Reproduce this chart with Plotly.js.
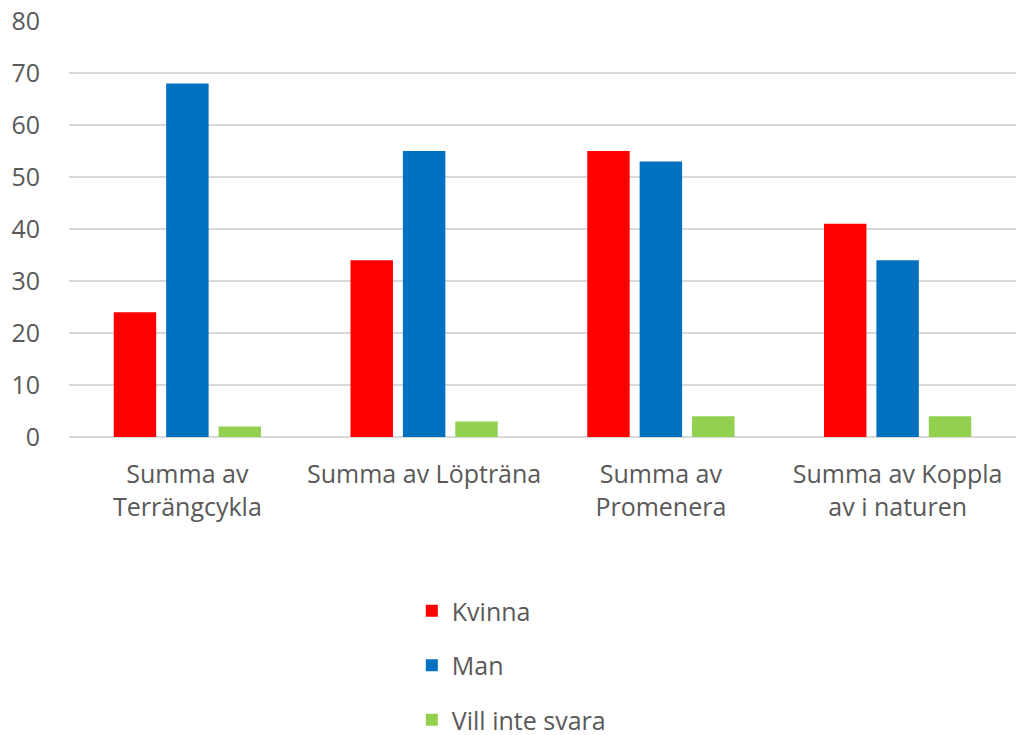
<!DOCTYPE html>
<html>
<head>
<meta charset="utf-8">
<script src="https://cdn.plot.ly/plotly-3.0.1.min.js"></script>
<style>html,body{margin:0;padding:0;background:#fff;}#chart{width:1016px;height:735px;}</style>
</head>
<body>
<div id="chart"></div>
<script>
var categories = ["Summa av<br>Terrängcykla", "Summa av Löpträna", "Summa av<br>Promenera", "Summa av Koppla<br>av i naturen"];
var kvinna = [24, 34, 55, 41];
var man = [68, 55, 53, 34];
var villInteSvara = [2, 3, 4, 4];
var seriesNames = ["Kvinna", "Man", "Vill inte svara"];
var yTicks = [0, 10, 20, 30, 40, 50, 60, 70, 80];

var colors = ["#FF0000", "#0070C0", "#92D050"];
var font = {family: "Open Sans, sans-serif", size: 25, color: "#595959"};
var legendFont = {family: "Open Sans, sans-serif", size: 25, color: "#595959"};
var catIdx = [0, 1, 2, 3];

var traces = [kvinna, man, villInteSvara].map(function (vals, i) {
  return {
    type: "bar",
    x: catIdx,
    y: vals,
    name: seriesNames[i],
    legendgroup: "g" + i,
    marker: {color: colors[i], line: {width: 0}},
    hoverinfo: "y"
  };
});

var layout = {
  width: 1016,
  height: 735,
  margin: {l: 69, r: 0, t: 21, b: 298, autoexpand: false},
  paper_bgcolor: "#fff",
  plot_bgcolor: "#fff",
  barmode: "group",
  bargap: 0.336,
  bargroupgap: 0.19,
  font: font,
  showlegend: true,
  legend: {
    orientation: "v",
    x: 0.362,
    xanchor: "left",
    yref: "container",
    y: 0.2,
    yanchor: "top",
    traceorder: "grouped",
    tracegroupgap: 19,
    font: legendFont,
    bgcolor: "rgba(0,0,0,0)"
  },
  xaxis: {
    type: "linear",
    range: [-0.5, 3.5],
    tickmode: "array",
    tickvals: catIdx,
    ticktext: categories,
    showgrid: false,
    zeroline: false,
    showline: false,
    ticks: "",
    tickfont: font,
    ticklabelstandoff: 20,
    fixedrange: true
  },
  yaxis: {
    range: [0, 80],
    tickmode: "array",
    tickvals: yTicks,
    ticktext: yTicks.map(String),
    showgrid: true,
    gridcolor: "#D9D9D9",
    gridwidth: 1.5,
    zeroline: true,
    zerolinecolor: "#D9D9D9",
    zerolinewidth: 1.5,
    showline: false,
    ticks: "",
    tickfont: font,
    ticklabelstandoff: 28,
    fixedrange: true
  }
};

Plotly.newPlot("chart", traces, layout, {displayModeBar: false, staticPlot: true});
</script>
</body>
</html>
